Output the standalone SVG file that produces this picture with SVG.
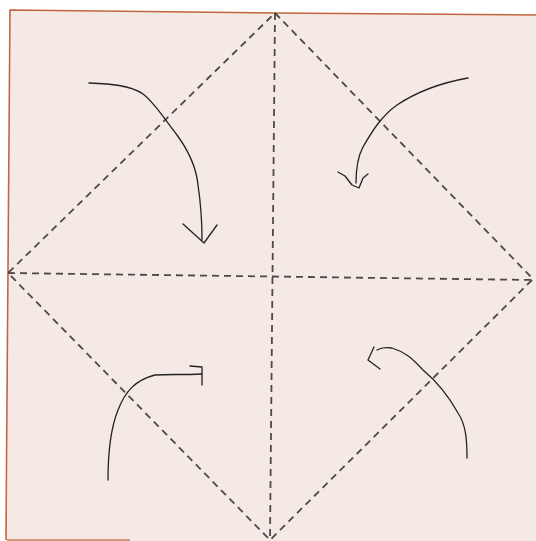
<svg xmlns="http://www.w3.org/2000/svg" width="536" height="541" viewBox="0 0 536 541">
<style>
.fold{fill:none;stroke:#4a4a4a;stroke-width:1.8;stroke-dasharray:7 5}
.arr{fill:none;stroke:#222;stroke-width:1.3;stroke-linecap:round;stroke-linejoin:round}
</style>
<rect width="536" height="541" fill="#ffffff"/>
<g id="paper">
<polygon points="11,10 275,13 536,15 536,541 7,541" fill="#f5e9e5"/>
<polyline points="6,540 7,400 10,10 275,13 536,15" fill="none" stroke="#c0653c" stroke-width="1.6"/>
<line x1="7" y1="540" x2="130" y2="540" stroke="#c97a55" stroke-width="1.6"/>
</g>
<g id="folds">
<polygon class="fold" points="275,13 533,279 270,540 8,273"/>
<line class="fold" x1="8" y1="273" x2="533" y2="280"/>
<line class="fold" x1="275" y1="13" x2="270" y2="540"/>
</g>
<g id="arrows">
<g id="arrow-tl">
<path class="arr" d="M89,83 C110,84 130,85 143,94 C155,103 165,120 177,135 C188,150 196,165 198,185 C201,205 202,225 202,240"/>
<polyline class="arr" points="183,224 204,243 217,225"/>
</g>
<g id="arrow-tr">
<path class="arr" d="M468,78 C440,83 415,93 397,105 C380,117 370,135 363,147 C357,158 356,170 356,183"/>
<polyline class="arr" points="338,172 345,176 352,185 359,188 363,178 368,174"/>
</g>
<g id="arrow-bl">
<path class="arr" d="M108,480 C108,455 110,430 118,410 C125,392 135,380 155,375 C170,374 180,375 202,374"/>
<polyline class="arr" points="190,366 202,367 202,385"/>
</g>
<g id="arrow-br">
<path class="arr" d="M467,458 C467,440 466,425 458,413 C448,395 435,380 423,370 C412,358 405,352 392,348 C385,347 380,348 377,350"/>
<polyline class="arr" points="374,347 368,360 380,369"/>
</g>
</g>
</svg>
